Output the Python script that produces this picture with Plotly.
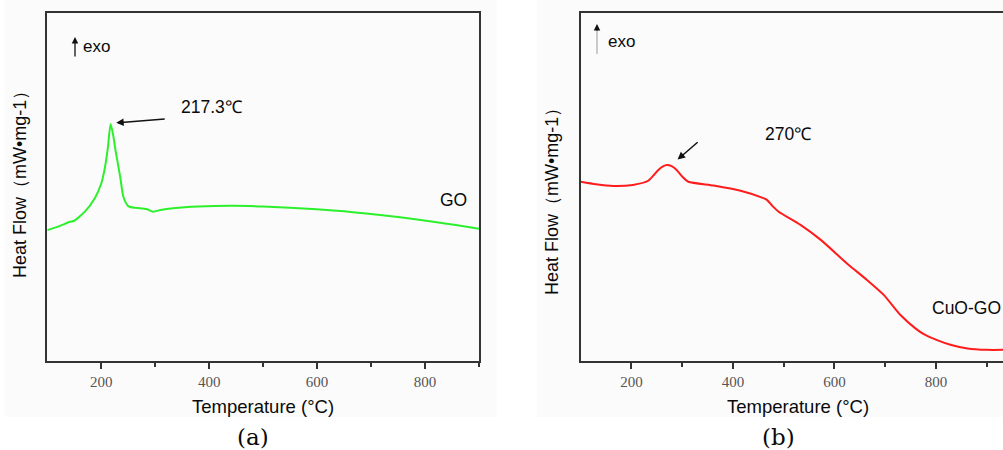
import plotly.graph_objects as go

# DSC curve of GO (panel a)
go_temp = [100, 120, 142, 150, 170, 188, 200, 207, 212, 217.3, 222, 227, 235, 241, 250,
           262, 272, 285, 296, 310, 333, 380, 444, 500, 599, 650, 691, 750, 815, 860, 900]
go_flow = [37.6, 38.6, 40.0, 40.3, 43.0, 46.8, 51.0, 55.8, 61.0, 68.1, 65.0, 60.0, 53.0, 47.2, 44.5,
           44.0, 43.9, 43.6, 42.9, 43.4, 43.9, 44.4, 44.6, 44.4, 43.6, 43.0, 42.4, 41.4, 40.0, 39.0, 38.0]

# DSC curve of CuO-GO (panel b)
cuo_temp = [100, 130, 164, 203, 233, 245, 253, 262, 270, 280, 289, 300, 312, 362, 415, 460, 467,
            478, 490, 533, 573, 624, 664, 697, 730, 760, 776, 802, 830, 862, 900, 932]
cuo_flow = [51.5, 50.8, 50.3, 50.6, 51.8, 53.6, 54.9, 55.9, 56.3, 55.9, 54.9, 53.0, 51.5, 50.4, 48.9, 46.8, 46.3,
            44.5, 42.9, 39.1, 34.8, 28.1, 23.3, 19.0, 13.2, 9.3, 7.7, 6.0, 4.6, 3.6, 3.2, 3.2]

x_ticks = [200, 400, 600, 800]
axis_title = "Temperature (°C)"
y_title = "Heat Flow（mW•mg-1）"

AX = "#333333"
dom_a = [47.3 / 1003, 479 / 1003]
dom_b = [580.7 / 1003, 1.0]
dom_y = [(450 - 361) / 450, (450 - 13) / 450]

fig = go.Figure()
fig.add_trace(go.Scatter(x=go_temp, y=go_flow, mode="lines", xaxis="x", yaxis="y",
                         line=dict(color="#2cf02c", width=2, shape="spline", smoothing=0.6),
                         showlegend=False, hoverinfo="skip"))
fig.add_trace(go.Scatter(x=cuo_temp, y=cuo_flow, mode="lines", xaxis="x2", yaxis="y2",
                         line=dict(color="#ff1c1c", width=2, shape="spline", smoothing=0.6),
                         showlegend=False, hoverinfo="skip"))

tickfont = dict(family="Liberation Serif, Times New Roman, serif", size=15, color="#555555")


def xaxis(domain, rng, anchor):
    return dict(domain=domain, range=rng, anchor=anchor, tickvals=x_ticks, ticks="outside",
                ticklen=6, tickwidth=1.5, tickcolor=AX, showline=True, linecolor=AX,
                linewidth=1.5, mirror=True, showgrid=False, zeroline=False, tickfont=tickfont,
                minor=dict(tickvals=[300, 500, 700, 900], ticks="outside", ticklen=4,
                           tickwidth=1.5, tickcolor=AX))


def yaxis(anchor, mirror):
    return dict(domain=dom_y, range=[0, 100], anchor=anchor, showline=True, linecolor=AX,
                linewidth=1.5, mirror=mirror, showticklabels=False, ticks="",
                showgrid=False, zeroline=False)


fig.update_layout(
    width=1003, height=450, margin=dict(l=0, r=0, t=0, b=0),
    paper_bgcolor="white", plot_bgcolor="rgba(0,0,0,0)",
    xaxis=xaxis(dom_a, [100, 900], "y"),
    yaxis=yaxis("x", True),
    xaxis2=xaxis(dom_b, [100, 932], "y2"),
    yaxis2=yaxis("x2", False),
)

# faint panel backgrounds
fig.add_shape(type="rect", xref="paper", yref="paper", x0=5 / 1003, x1=497 / 1003,
              y0=(450 - 417) / 450, y1=1, fillcolor="#fbfbfb", line=dict(width=0), layer="below")
fig.add_shape(type="rect", xref="paper", yref="paper", x0=537 / 1003, x1=1,
              y0=(450 - 417) / 450, y1=1, fillcolor="#fbfbfb", line=dict(width=0), layer="below")

# grey shaft of the exo arrow in panel b
fig.add_shape(type="line", xref="paper", yref="paper", x0=597 / 1003, x1=597 / 1003,
              y0=(450 - 54) / 450, y1=(450 - 30) / 450, line=dict(color="#b0b0b0", width=1.3))

sans = "Liberation Sans, Arial, sans-serif"
serif = "DejaVu Serif, Liberation Serif, serif"
TXT = "#0a0a0a"


def px(x, y, **kw):
    d = dict(xref="paper", yref="paper", x=x / 1003, y=(450 - y) / 450, showarrow=False,
             xanchor="center", yanchor="middle")
    d.update(kw)
    return d


anns = [
    px(263, 406, text=axis_title, font=dict(family=sans, size=18.5, color=TXT)),
    px(798, 406, text=axis_title, font=dict(family=sans, size=18.5, color=TXT)),
    px(20, 180, text=y_title, textangle=-90, font=dict(family=sans, size=18, color=TXT)),
    px(552, 197, text=y_title, textangle=-90, font=dict(family=sans, size=18, color=TXT)),
    px(253, 437, text="(a)", font=dict(family=serif, size=23, color=TXT)),
    px(778, 437, text="(b)", font=dict(family=serif, size=23, color=TXT)),
    px(81, 46, text="exo", xanchor="left", font=dict(family=sans, size=17, color=TXT)),
    px(606, 41, text="exo", xanchor="left", font=dict(family=sans, size=17, color=TXT)),
    px(179, 107, text="217.3℃", xanchor="left", font=dict(family=sans, size=17.5, color=TXT)),
    px(763, 134, text="270℃", xanchor="left", font=dict(family=sans, size=17.5, color=TXT)),
    px(453, 200, text="GO", font=dict(family=sans, size=17.5, color=TXT)),
    px(930, 308, text="CuO-GO", xanchor="left", font=dict(family=sans, size=17.5, color=TXT)),
]

# arrows (ax/ay in pixels relative to the head)
anns.append(dict(xref="paper", yref="paper", x=75 / 1003, y=(450 - 37) / 450, ax=0, ay=21,
                 text="", showarrow=True, arrowhead=2, arrowsize=1, arrowwidth=1.3, arrowcolor="#111"))
anns.append(dict(xref="paper", yref="paper", x=597 / 1003, y=(450 - 24) / 450, ax=0, ay=8,
                 text="", showarrow=True, arrowhead=2, arrowsize=1, arrowwidth=1.3, arrowcolor="#111"))
anns.append(dict(xref="x", yref="y", x=224, y=68.4, ax=173 - 121, ay=120 - 124,
                 text="", showarrow=True, arrowhead=2, arrowsize=1, arrowwidth=1.5, arrowcolor="#111",
                 standoff=2))
anns.append(dict(xref="x2", yref="y2", x=288, y=57.5, ax=701 - 678, ay=143 - 163,
                 text="", showarrow=True, arrowhead=2, arrowsize=1, arrowwidth=1.5, arrowcolor="#111",
                 standoff=2))
fig.update_layout(annotations=anns)

fig.write_html("out.html")
